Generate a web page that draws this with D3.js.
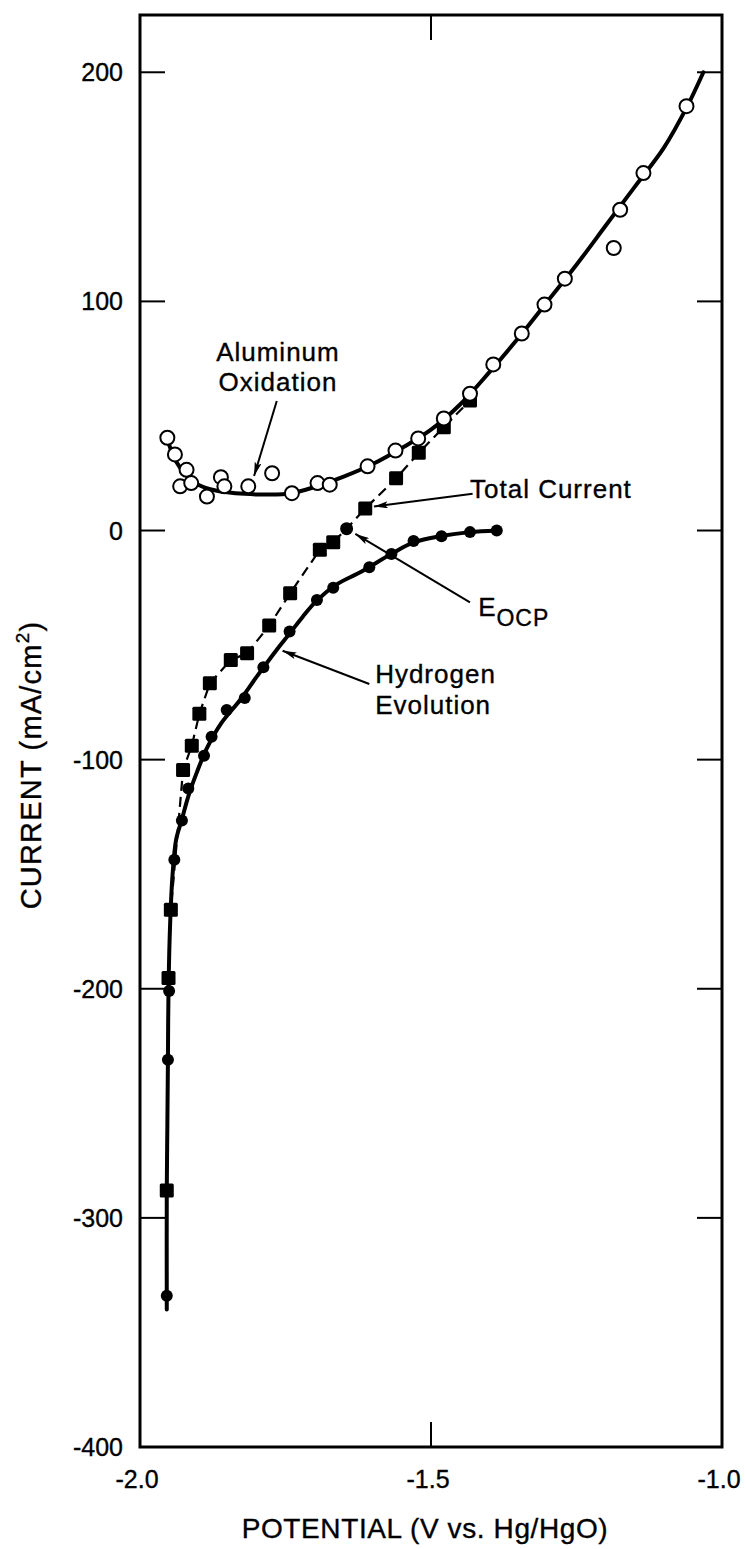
<!DOCTYPE html>
<html>
<head>
<meta charset="utf-8">
<script src="https://cdn.jsdelivr.net/npm/d3@7"></script>
<style>
  html, body { margin: 0; padding: 0; background: #fff; }
  svg { display: block; font-family: "Liberation Sans", Arial, Helvetica, sans-serif; }
  text { stroke: #000; stroke-width: 0.35px; fill: #000; }
</style>
</head>
<body>
<svg id="chart" width="746" height="1549"></svg>
<script>
// Axis ticks
const xTicks = [-2.0, -1.5, -1.0];
const xTickLabels = ["-2.0", "-1.5", "-1.0"];
const yTicks = [200, 100, 0, -100, -200, -300, -400];
const yTickLabels = ["200", "100", "0", "-100", "-200", "-300", "-400"];

// Aluminum oxidation: measured points (open circles)
const alV = [-1.953, -1.940, -1.920, -1.931, -1.912, -1.885, -1.861, -1.855, -1.814, -1.773,
             -1.739, -1.695, -1.674, -1.609, -1.561, -1.522, -1.478, -1.433, -1.393, -1.344,
             -1.305, -1.270, -1.186, -1.175, -1.135, -1.061];
const alI = [40.5, 33.2, 26.5, 19.3, 20.7, 14.8, 23.3, 19.3, 19.3, 25.0,
             16.3, 20.7, 20.0, 28.0, 34.9, 40.2, 48.9, 59.7, 72.5, 86.0,
             98.6, 109.9, 123.3, 140.0, 156.0, 185.2];
// Aluminum oxidation: fitted curve
const alFitV = [-1.953, -1.940, -1.920, -1.900, -1.870, -1.820, -1.780, -1.740, -1.700, -1.650,
                -1.600, -1.550, -1.500, -1.450, -1.400, -1.350, -1.300, -1.250, -1.200, -1.150,
                -1.100, -1.060, -1.032];
const alFitI = [40, 31, 24, 20, 17.5, 16, 15.7, 16.3, 19, 23.5,
                29, 36, 44, 55, 69, 84, 100, 116, 133, 150,
                167, 185, 200];

// Hydrogen evolution: measured points (filled circles)
const hV = [-1.954, -1.952, -1.950, -1.941, -1.928, -1.917, -1.890, -1.877, -1.851, -1.820,
            -1.788, -1.743, -1.696, -1.668, -1.606, -1.568, -1.530, -1.482, -1.433, -1.387];
const hI = [-334, -231, -201, -143.7, -126.6, -112.6, -98.3, -90.0, -78.3, -73.1,
            -59.7, -44.1, -30.3, -25.0, -16.0, -10.2, -4.6, -2.5, -0.7, 0];
// Hydrogen evolution: fitted curve
const hFitV = [-1.954, -1.954, -1.953, -1.952, -1.951, -1.948, -1.944, -1.938, -1.928, -1.917,
               -1.903, -1.885, -1.860, -1.828, -1.800, -1.765, -1.743, -1.720, -1.696, -1.662,
               -1.620, -1.570, -1.530, -1.480, -1.433, -1.387];
const hFitI = [-340, -288, -260, -231, -200, -170, -150, -135, -126, -116,
               -106, -95, -84, -74, -64, -52, -45, -37.5, -30.5, -23.5,
               -18, -10.5, -5.2, -2.3, -0.7, 0];

// Total current: measured points (filled squares)
const tV = [-1.954, -1.951, -1.947, -1.926, -1.911, -1.898, -1.880, -1.844, -1.816, -1.778,
            -1.742, -1.691, -1.668, -1.613, -1.560, -1.521, -1.478, -1.433];
const tI = [-288, -195.3, -165.5, -104.5, -93.9, -80.0, -66.7, -56.5, -53.6, -41.5,
            -27.4, -8.4, -5.1, 9.6, 22.8, 33.9, 45.1, 56.8];

// Open-circuit potential
const ocpV = [-1.645];
const ocpI = [0.8];

const svg = d3.select("#chart");
const x = d3.scaleLinear().domain([-2.0, -1.0]).range([140, 722]);
const y = d3.scaleLinear().domain([-400, 225]).range([1447, 15]);

const zip = (a, b) => a.map((v, i) => [v, b[i]]);
const line = d3.line().x(d => x(d[0])).y(d => y(d[1]));
const smooth = d3.line().x(d => x(d[0])).y(d => y(d[1])).curve(d3.curveCatmullRom.alpha(0.5));

// arrowhead
svg.append("defs").append("marker")
  .attr("id", "arrow").attr("markerUnits", "userSpaceOnUse")
  .attr("viewBox", "0 0 14 7").attr("refX", 14).attr("refY", 3.5)
  .attr("markerWidth", 14).attr("markerHeight", 7).attr("orient", "auto")
  .append("path").attr("d", "M0,0 L14,3.5 L0,7 L3,3.5 Z").attr("fill", "#000");

// frame
const [x0, x1] = x.range();
const [y0, y1] = y.range();
svg.append("rect")
  .attr("x", x0).attr("y", y1).attr("width", x1 - x0).attr("height", y0 - y1)
  .attr("fill", "none").attr("stroke", "#000").attr("stroke-width", 3);

// inward ticks: left and right for current, top and bottom at -1.5
const tickLen = 25;
const ax = svg.append("g").attr("stroke", "#000").attr("stroke-width", 2);
yTicks.filter(t => t > -400).forEach(t => {
  ax.append("line").attr("x1", x0).attr("x2", x0 + tickLen).attr("y1", y(t)).attr("y2", y(t));
  ax.append("line").attr("x1", x1 - tickLen).attr("x2", x1).attr("y1", y(t)).attr("y2", y(t));
});
xTicks.filter(t => t > -2 && t < -1).forEach(t => {
  ax.append("line").attr("x1", x(t)).attr("x2", x(t)).attr("y1", y1).attr("y2", y1 + tickLen);
  ax.append("line").attr("x1", x(t)).attr("x2", x(t)).attr("y1", y0).attr("y2", y0 - tickLen);
});

// tick labels
svg.append("g").selectAll("text").data(yTicks).join("text")
  .attr("x", 123).attr("y", d => y(d)).attr("dy", "0.36em")
  .attr("text-anchor", "end").attr("font-size", 25)
  .text((d, i) => yTickLabels[i]);
svg.append("g").selectAll("text").data(xTicks).join("text")
  .attr("x", d => x(d) - 3).attr("y", 1488)
  .attr("text-anchor", "middle").attr("font-size", 25)
  .text((d, i) => xTickLabels[i]);

// axis titles
svg.append("text")
  .attr("x", 425).attr("y", 1538).attr("text-anchor", "middle")
  .attr("font-size", 28).attr("letter-spacing", 0.6)
  .text("POTENTIAL (V vs. Hg/HgO)");
const yt = svg.append("text")
  .attr("transform", "translate(41,765) rotate(-90)")
  .attr("text-anchor", "middle").attr("font-size", 29).attr("letter-spacing", 1.2);
yt.append("tspan").text("CURRENT (mA/cm");
yt.append("tspan").attr("font-size", 19).attr("dy", -12).text("2");
yt.append("tspan").attr("dy", 12).text(")");

// curves
svg.append("path").datum(zip(tV, tI).concat(zip(ocpV, ocpI)).sort((a, b) => a[0] - b[0]))
  .attr("d", line).attr("fill", "none").attr("stroke", "#000")
  .attr("stroke-width", 2.2).attr("stroke-dasharray", "10,6");
svg.append("path").datum(zip(alFitV, alFitI))
  .attr("d", smooth).attr("fill", "none").attr("stroke", "#000").attr("stroke-width", 4)
  .attr("stroke-linecap", "round");
svg.append("path").datum(zip(hFitV, hFitI))
  .attr("d", smooth).attr("fill", "none").attr("stroke", "#000").attr("stroke-width", 4)
  .attr("stroke-linecap", "round");

// markers
svg.append("g").selectAll("rect").data(zip(tV, tI)).join("rect")
  .attr("x", d => x(d[0]) - 7).attr("y", d => y(d[1]) - 7)
  .attr("width", 14).attr("height", 14).attr("rx", 1.5).attr("fill", "#000");
svg.append("g").selectAll("circle").data(zip(hV, hI)).join("circle")
  .attr("cx", d => x(d[0])).attr("cy", d => y(d[1])).attr("r", 6).attr("fill", "#000");
svg.append("g").selectAll("circle").data(zip(ocpV, ocpI)).join("circle")
  .attr("cx", d => x(d[0])).attr("cy", d => y(d[1])).attr("r", 6.5).attr("fill", "#000");
svg.append("g").selectAll("circle").data(zip(alV, alI)).join("circle")
  .attr("cx", d => x(d[0])).attr("cy", d => y(d[1])).attr("r", 7)
  .attr("fill", "#fff").attr("stroke", "#000").attr("stroke-width", 2);

// annotations with leader arrows
const notes = svg.append("g").attr("font-size", 26).attr("letter-spacing", 1);
function arrow(v0, i0, v1, i1) {
  notes.append("line")
    .attr("x1", x(v0)).attr("y1", y(i0)).attr("x2", x(v1)).attr("y2", y(i1))
    .attr("stroke", "#000").attr("stroke-width", 2).attr("marker-end", "url(#arrow)");
}
notes.append("text").attr("x", x(-1.763)).attr("y", y(74.2)).attr("text-anchor", "middle").text("Aluminum");
notes.append("text").attr("x", x(-1.763)).attr("y", y(61.1)).attr("text-anchor", "middle").text("Oxidation");
arrow(-1.765, 56.5, -1.804, 23.8);

notes.append("text").attr("x", x(-1.433)).attr("y", y(14.0)).text("Total Current");
arrow(-1.4285, 16.0, -1.598, 10.5);

const eo = notes.append("text").attr("x", x(-1.419)).attr("y", y(-37.1));
eo.append("tspan").text("E");
eo.append("tspan").attr("dy", 10).attr("font-size", 23).text("OCP");
arrow(-1.433, -31.4, -1.630, -1.5);

notes.append("text").attr("x", x(-1.596)).attr("y", y(-66.7)).text("Hydrogen");
notes.append("text").attr("x", x(-1.596)).attr("y", y(-80.0)).text("Evolution");
arrow(-1.606, -67.0, -1.755, -52.5);
</script>
</body>
</html>
